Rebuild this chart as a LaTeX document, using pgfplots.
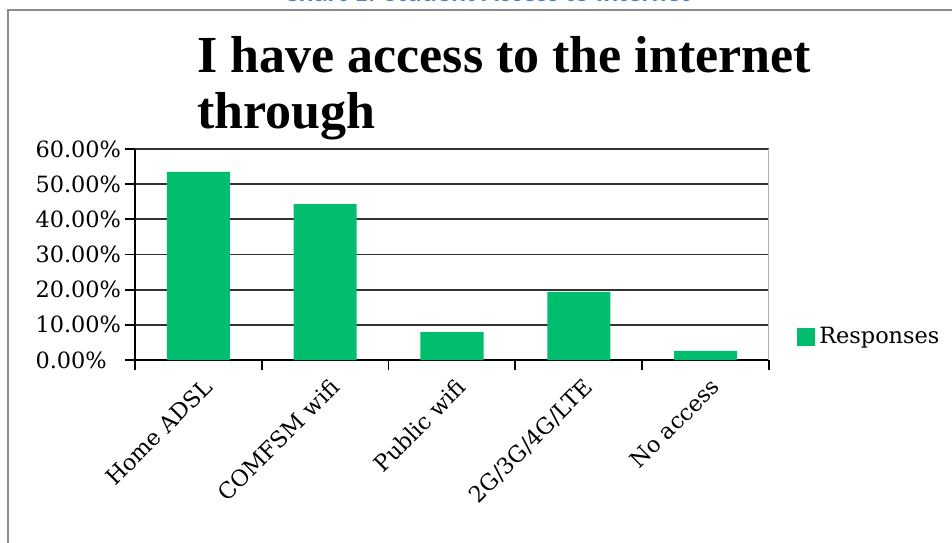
\documentclass[border=0pt]{standalone}
\usepackage{pgfplots}
\pgfplotsset{compat=1.18}
\usepackage{fontspec}
\setmainfont{DejaVu Serif}
\newfontfamily\titlefont{Liberation Serif}
\newfontfamily\capfont{Carlito}
\definecolor{bargreen}{RGB}{0,190,110}
\definecolor{capblue}{RGB}{79,129,189}
\definecolor{framegray}{RGB}{140,140,140}
\definecolor{gridcol}{RGB}{50,50,50}
\begin{document}
\begin{tikzpicture}[x=0.5pt,y=0.5pt]
\path[use as bounding box] (0,0) rectangle (952,542);
\draw[framegray, line width=0.75pt] (8,-20) -- (8,532) -- (970,532);
\node[anchor=base, inner sep=0, font=\capfont\bfseries\fontsize{14pt}{16pt}\selectfont, text=capblue] at (487,540) {Chart 1: Student Access to Internet};
\node[anchor=base west, inner sep=0, font=\titlefont\bfseries\fontsize{26pt}{28pt}\selectfont] at (197,469) {I have access to the internet};
\node[anchor=base west, inner sep=0, font=\titlefont\bfseries\fontsize{26pt}{28pt}\selectfont] at (197,414) {through};
\begin{axis}[
  at={(67.5pt,91pt)}, anchor=south west,
  scale only axis, width=317pt, height=105.5pt,
  xmin=-0.5, xmax=4.5, ymin=0, ymax=60,
  axis x line*=bottom, axis y line*=left,
  axis line style={-, black, line width=0.9pt},
  ymajorgrids, grid style={gridcol, line width=0.9pt},
  ytick={0,10,...,60},
  yticklabels={0.00\%,10.00\%,20.00\%,30.00\%,40.00\%,50.00\%,60.00\%},
  xtick={0,...,4},
  xticklabels={Home ADSL,COMFSM wifi,Public wifi,2G/3G/4G/LTE,No access},
  minor xtick={-0.5,0.5,...,4.5},
  tick align=outside,
  major tick length=5pt, minor tick length=5pt,
  tick style={black, line width=0.9pt},
  major x tick style={draw=none},
  ticklabel style={font=\fontsize{11.2pt}{13pt}\selectfont},
  yticklabel style={text width=43pt, align=left, anchor=east, inner sep=1.5pt},
  xticklabel style={rotate=45, anchor=north east, inner sep=1pt, yshift=-2.5pt},
  ybar, bar width=31.5pt,
  legend style={at={(axis description cs:1.044,0.109)}, anchor=west, draw=none, inner sep=0pt, fill=none,
    font=\fontsize{11.2pt}{13pt}\selectfont},
  legend image code/.code={\fill[#1] (0pt,-4.5pt) rectangle (9pt,4.5pt);},
]
\addplot[fill=bargreen, draw=none] coordinates {(0,53.5) (1,44.3) (2,7.9) (3,19.4) (4,2.6)};
\addlegendentry{Responses}
\draw[gray!60, line width=0.5pt] (rel axis cs:1,0) -- (rel axis cs:1,1);
\end{axis}
\end{tikzpicture}
\end{document}
